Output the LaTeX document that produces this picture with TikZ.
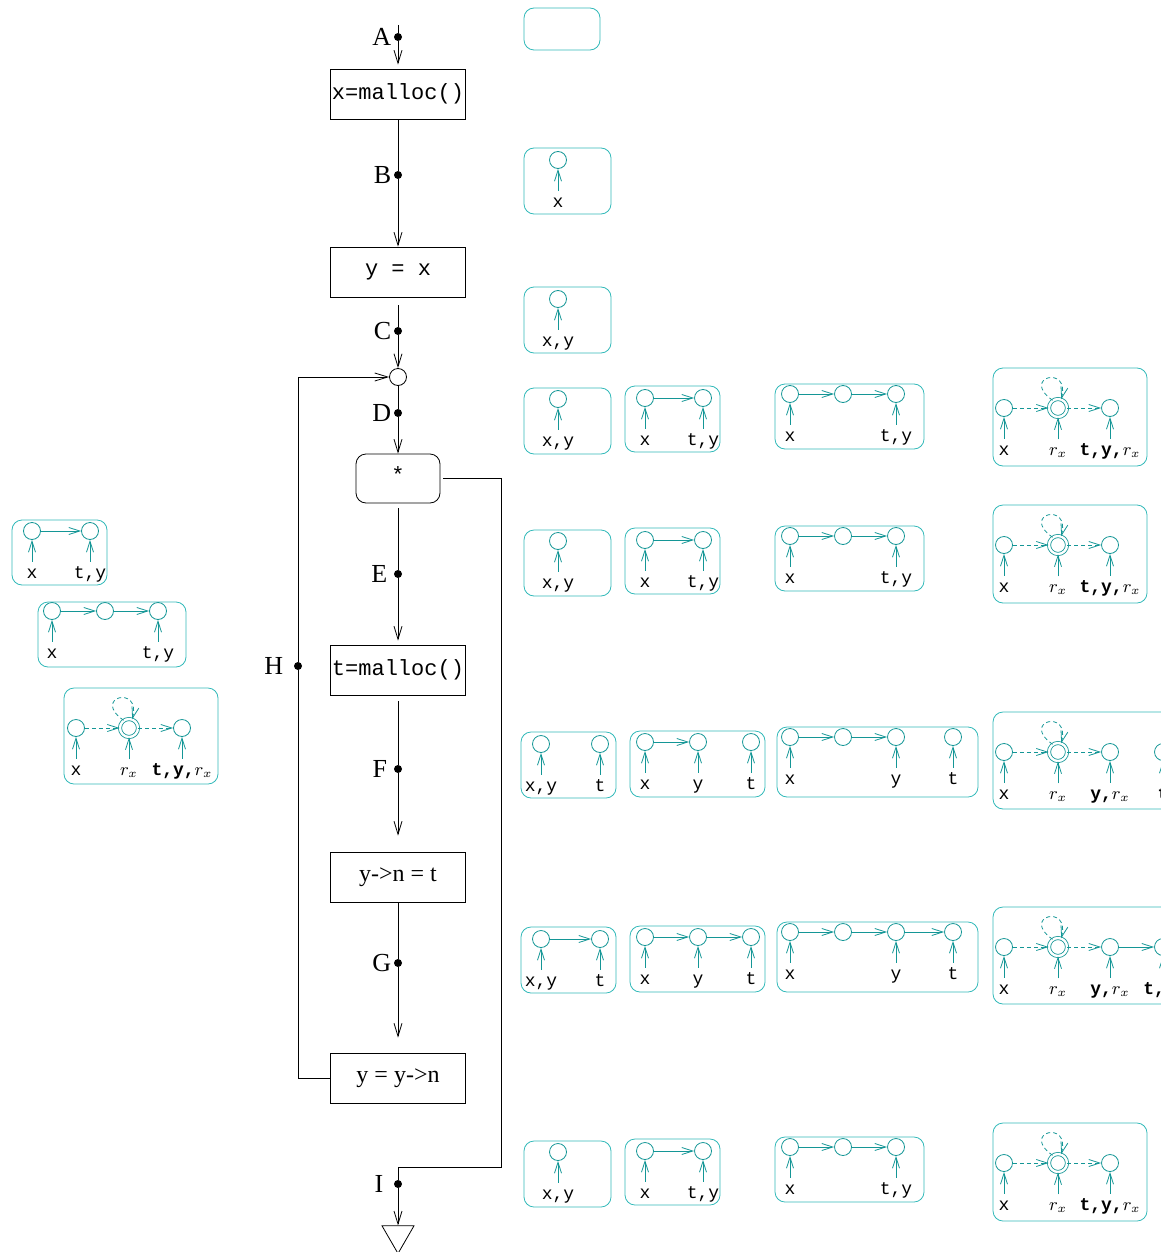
\documentclass[tikz,border=0pt]{standalone}
\usepackage{fontspec}
\setmainfont{Liberation Serif}
\setmonofont{Liberation Mono}
\usetikzlibrary{positioning,arrows.meta,shapes.geometric}
\definecolor{sgline}{RGB}{20,150,150}
\definecolor{sgframe}{RGB}{50,185,185}

\tikzset{
  stmt/.style={draw, rectangle, minimum width=67.5pt, minimum height=25pt, inner sep=0pt, font=\fontsize{11}{13}\selectfont\ttfamily},
  cstmt/.style={stmt, font=\fontsize{12}{14}\selectfont},
  pt/.style={circle, fill, inner sep=0pt, minimum size=4pt},
  ptlbl/.style={font=\fontsize{13}{15}\selectfont, inner sep=1pt},
  flow/.style={-{Straight Barb[length=6.5pt,width=4pt]}},
  sgbox/.style={draw=sgframe, rounded corners=5pt},
  sgn/.style={circle, draw=sgline, minimum size=8.5pt, inner sep=0pt},
  sgsum/.style={sgn, minimum size=9pt, double=white, double distance=1.2pt},
  sglbl/.style={font=\fontsize{9}{10}\selectfont\ttfamily, text height=1.5ex, text depth=.3ex, inner sep=1pt, below=11pt of #1},
  ptr/.style={draw=sgline, -{Straight Barb[length=5.5pt,width=3.5pt]}},
  sgmay/.style={ptr, dashed, dash pattern=on 2pt off 1.5pt},
}

\begin{document}
\begin{tikzpicture}[x=0.5pt, y=-0.5pt]
    \useasboundingbox (0,0) rectangle (1161,1252);
    \clip (0,0) rectangle (1161,1252);

    % the program
    \coordinate (entry) at (398,25);
    \node[stmt] (xmal) at (398,94) {x=malloc()};
    \node[stmt] (yx) at (398,272) {y = x};
    \node[circle, draw, minimum size=8.5pt, inner sep=0pt] (join) at (398,377) {};
    \node[stmt, rounded corners=5pt, minimum width=42pt, minimum height=24.5pt] (star) at (398,478.5) {\raisebox{4pt}{*}};
    \node[stmt] (tmal) at (398,670) {t=malloc()};
    \node[cstmt] (ynt) at (398,877) {y-{}>n = t};
    \node[cstmt] (yyn) at (398,1078) {y = y-{}>n};
    \node[draw, regular polygon, regular polygon sides=3, shape border rotate=180, minimum size=18.5pt, inner sep=0pt] (exit) at (398,1235) {};

    \node[pt, label={[ptlbl]left:A}] (pA) at (398,37) {};
    \node[pt, label={[ptlbl]left:B}] (pB) at (398,175) {};
    \node[pt, label={[ptlbl]left:C}] (pC) at (398,331) {};
    \node[pt, label={[ptlbl]left:D}] (pD) at (398,413) {};
    \node[pt, label={[ptlbl,xshift=-2pt]left:E}] (pE) at (398,574) {};
    \node[pt, label={[ptlbl,xshift=-2pt]left:F}] (pF) at (398,769) {};
    \node[pt, label={[ptlbl]left:G}] (pG) at (398,963) {};
    \node[pt, label={[ptlbl,xshift=-4pt]left:H}] (pH) at (298,666) {};
    \node[pt, label={[ptlbl,xshift=-4pt]left:I}] (pI) at (398,1184) {};

    \draw (entry) -- (pA);
    \draw[flow, shorten >=2pt] (pA) -- (xmal);
    \draw (xmal) -- (pB);
    \draw[flow] (pB) -- (yx);
    \draw[shorten <=4pt] (yx) -- (pC);
    \draw[flow] (pC) -- (join);
    \draw (join) -- (pD);
    \draw[flow] (pD) -- (star);
    \draw[shorten <=2.5pt] (star) -- (pE);
    \draw[flow, shorten >=2pt] (pE) -- (tmal);
    \draw[shorten <=3pt] (tmal) -- (pF);
    \draw[flow, shorten >=8pt] (pF) -- (ynt);
    \draw (ynt) -- (pG);
    \draw[flow, shorten >=7.5pt] (pG) -- (yyn);
    \draw (yyn.west) -| (pH);
    \draw[flow] (pH) |- (join);
    \coordinate (turn) at (501,1167);
    \draw[shorten <=1.5pt] (star.east) -| (turn) -| (pI);
    \draw[flow] (pI) -- (exit);

    % shape graphs at A, B, C
    \draw[sgbox] (524,8) rectangle (600,50);

    \draw[sgbox] (524,148) rectangle (611,214);
    \node[sgn] (b-a1) at (558,160) {};
    \node[sglbl=b-a1] (b-a1l) {x};
    \draw[ptr] (b-a1l) -- (b-a1);

    \draw[sgbox] (524,287) rectangle (611,353);
    \node[sgn] (c-a1) at (558,299) {};
    \node[sglbl=c-a1] (c-a1l) {x,y};
    \draw[ptr] (c-a1l) -- (c-a1);

    % shape graphs at D, E, I
    \foreach \r/\dy/\dz in {d/0/0, e/142/137, i/753/755} {
        \begin{scope}[shift={(0,\dy)}]
            \draw[sgbox] (524,388) rectangle (611,454);
            \node[sgn] (\r-a1) at (558,399) {};
            \node[sglbl=\r-a1] (\r-a1l) {x,y};
            \draw[ptr] (\r-a1l) -- (\r-a1);

            \draw[sgbox] (625,386) rectangle (720,452);
            \node[sgn] (\r-b1) at (645,398) {};
            \node[sgn] (\r-b2) at (703,398) {};
            \node[sglbl=\r-b1] (\r-b1l) {x};
            \node[sglbl=\r-b2] (\r-b2l) {t,y};
            \draw[ptr] (\r-b1) -- (\r-b2);
            \draw[ptr] (\r-b1l) -- (\r-b1);
            \draw[ptr] (\r-b2l) -- (\r-b2);

            \draw[sgbox] (775,384) rectangle (924,449);
            \node[sgn] (\r-c1) at (790,394) {};
            \node[sgn] (\r-c2) at (843,394) {};
            \node[sgn] (\r-c3) at (896,394) {};
            \node[sglbl=\r-c1] (\r-c1l) {x};
            \node[sglbl=\r-c3] (\r-c3l) {t,y};
            \draw[ptr] (\r-c1) -- (\r-c2);
            \draw[ptr] (\r-c2) -- (\r-c3);
            \draw[ptr] (\r-c1l) -- (\r-c1);
            \draw[ptr] (\r-c3l) -- (\r-c3);
        \end{scope}
        \begin{scope}[shift={(0,\dz)}]
            \draw[sgbox] (993,368) rectangle (1147,466);
            \node[sgn] (\r-d1) at (1004,408) {};
            \node[sgsum] (\r-d2) at (1058,408) {};
            \node[sgn] (\r-d3) at (1110,408) {};
            \node[sglbl=\r-d1] (\r-d1l) {x};
            \node[sglbl=\r-d2] (\r-d2l) {$r_x$};
            \node[sglbl=\r-d3] (\r-d3l) {{\bfseries t,y,}$r_x$};
            \draw[sgmay] (\r-d1) -- (\r-d2);
            \draw[sgmay] (\r-d2) -- (\r-d3);
            \draw[sgmay] (\r-d2.125) .. controls +(145:20pt) and +(75:18pt) .. (\r-d2.70);
            \draw[ptr] (\r-d1l) -- (\r-d1);
            \draw[ptr] (\r-d2l) -- (\r-d2);
            \draw[ptr] (\r-d3l) -- (\r-d3);
        \end{scope}
    }

    % shape graphs at F and G
    \foreach \r/\dy in {f/0, g/195} {
        \begin{scope}[shift={(0,\dy)}]
            \draw[sgbox] (521,732) rectangle (616,798);
            \node[sgn] (\r-a1) at (541,744) {};
            \node[sgn] (\r-a2) at (600,744) {};
            \node[sglbl=\r-a1] (\r-a1l) {x,y};
            \node[sglbl=\r-a2] (\r-a2l) {t};
            \draw[ptr] (\r-a1l) -- (\r-a1);
            \draw[ptr] (\r-a2l) -- (\r-a2);

            \draw[sgbox] (630,731) rectangle (765,797);
            \node[sgn] (\r-b1) at (645,742) {};
            \node[sgn] (\r-b2) at (698,742) {};
            \node[sgn] (\r-b3) at (751,742) {};
            \node[sglbl=\r-b1] (\r-b1l) {x};
            \node[sglbl=\r-b2] (\r-b2l) {y};
            \node[sglbl=\r-b3] (\r-b3l) {t};
            \draw[ptr] (\r-b1) -- (\r-b2);
            \draw[ptr] (\r-b1l) -- (\r-b1);
            \draw[ptr] (\r-b2l) -- (\r-b2);
            \draw[ptr] (\r-b3l) -- (\r-b3);

            \draw[sgbox] (777,727) rectangle (978,797);
            \node[sgn] (\r-c1) at (790,737) {};
            \node[sgn] (\r-c2) at (843,737) {};
            \node[sgn] (\r-c3) at (896,737) {};
            \node[sgn] (\r-c4) at (953,737) {};
            \node[sglbl=\r-c1] (\r-c1l) {x};
            \node[sglbl=\r-c3] (\r-c3l) {y};
            \node[sglbl=\r-c4] (\r-c4l) {t};
            \draw[ptr] (\r-c1) -- (\r-c2);
            \draw[ptr] (\r-c2) -- (\r-c3);
            \draw[ptr] (\r-c1l) -- (\r-c1);
            \draw[ptr] (\r-c3l) -- (\r-c3);
            \draw[ptr] (\r-c4l) -- (\r-c4);

            \draw[sgbox] (993,712) rectangle (1200,809);
            \node[sgn] (\r-d1) at (1004,752) {};
            \node[sgsum] (\r-d2) at (1058,752) {};
            \node[sgn] (\r-d3) at (1110,752) {};
            \node[sgn] (\r-d4) at (1163,752) {};
            \node[sglbl=\r-d1] (\r-d1l) {x};
            \node[sglbl=\r-d2] (\r-d2l) {$r_x$};
            \node[sglbl=\r-d3] (\r-d3l) {{\bfseries y,}$r_x$};
            \draw[sgmay] (\r-d1) -- (\r-d2);
            \draw[sgmay] (\r-d2) -- (\r-d3);
            \draw[sgmay] (\r-d2.125) .. controls +(145:20pt) and +(75:18pt) .. (\r-d2.70);
            \draw[ptr] (\r-d1l) -- (\r-d1);
            \draw[ptr] (\r-d2l) -- (\r-d2);
            \draw[ptr] (\r-d3l) -- (\r-d3);
        \end{scope}
    }
    \node[sglbl=f-d4] (f-d4l) {\bfseries t};
    \draw[ptr] (f-d4l) -- (f-d4);
    \node[sglbl=g-d4] (g-d4l) {{\bfseries t,}$r_x$};
    \draw[ptr] (g-d4l) -- (g-d4);
    \draw[ptr] (g-a1) -- (g-a2);
    \draw[ptr] (g-b2) -- (g-b3);
    \draw[ptr] (g-c3) -- (g-c4);
    \draw[ptr] (g-d3) -- (g-d4);

    % shape graphs at H
    \draw[sgbox] (12,520) rectangle (107,585);
    \node[sgn] (h-a1) at (32,531) {};
    \node[sgn] (h-a2) at (90,531) {};
    \node[sglbl=h-a1] (h-a1l) {x};
    \node[sglbl=h-a2] (h-a2l) {t,y};
    \draw[ptr] (h-a1) -- (h-a2);
    \draw[ptr] (h-a1l) -- (h-a1);
    \draw[ptr] (h-a2l) -- (h-a2);

    \draw[sgbox] (38,602) rectangle (186,667);
    \node[sgn] (h-b1) at (52,611) {};
    \node[sgn] (h-b2) at (105,611) {};
    \node[sgn] (h-b3) at (158,611) {};
    \node[sglbl=h-b1] (h-b1l) {x};
    \node[sglbl=h-b3] (h-b3l) {t,y};
    \draw[ptr] (h-b1) -- (h-b2);
    \draw[ptr] (h-b2) -- (h-b3);
    \draw[ptr] (h-b1l) -- (h-b1);
    \draw[ptr] (h-b3l) -- (h-b3);

    \draw[sgbox] (64,688) rectangle (218,784);
    \node[sgn] (h-c1) at (76,728) {};
    \node[sgsum] (h-c2) at (129,728) {};
    \node[sgn] (h-c3) at (182,728) {};
    \node[sglbl=h-c1] (h-c1l) {x};
    \node[sglbl=h-c2] (h-c2l) {$r_x$};
    \node[sglbl=h-c3] (h-c3l) {{\bfseries t,y,}$r_x$};
    \draw[sgmay] (h-c1) -- (h-c2);
    \draw[sgmay] (h-c2) -- (h-c3);
    \draw[sgmay] (h-c2.125) .. controls +(145:20pt) and +(75:18pt) .. (h-c2.70);
    \draw[ptr] (h-c1l) -- (h-c1);
    \draw[ptr] (h-c2l) -- (h-c2);
    \draw[ptr] (h-c3l) -- (h-c3);
\end{tikzpicture}
\end{document}
